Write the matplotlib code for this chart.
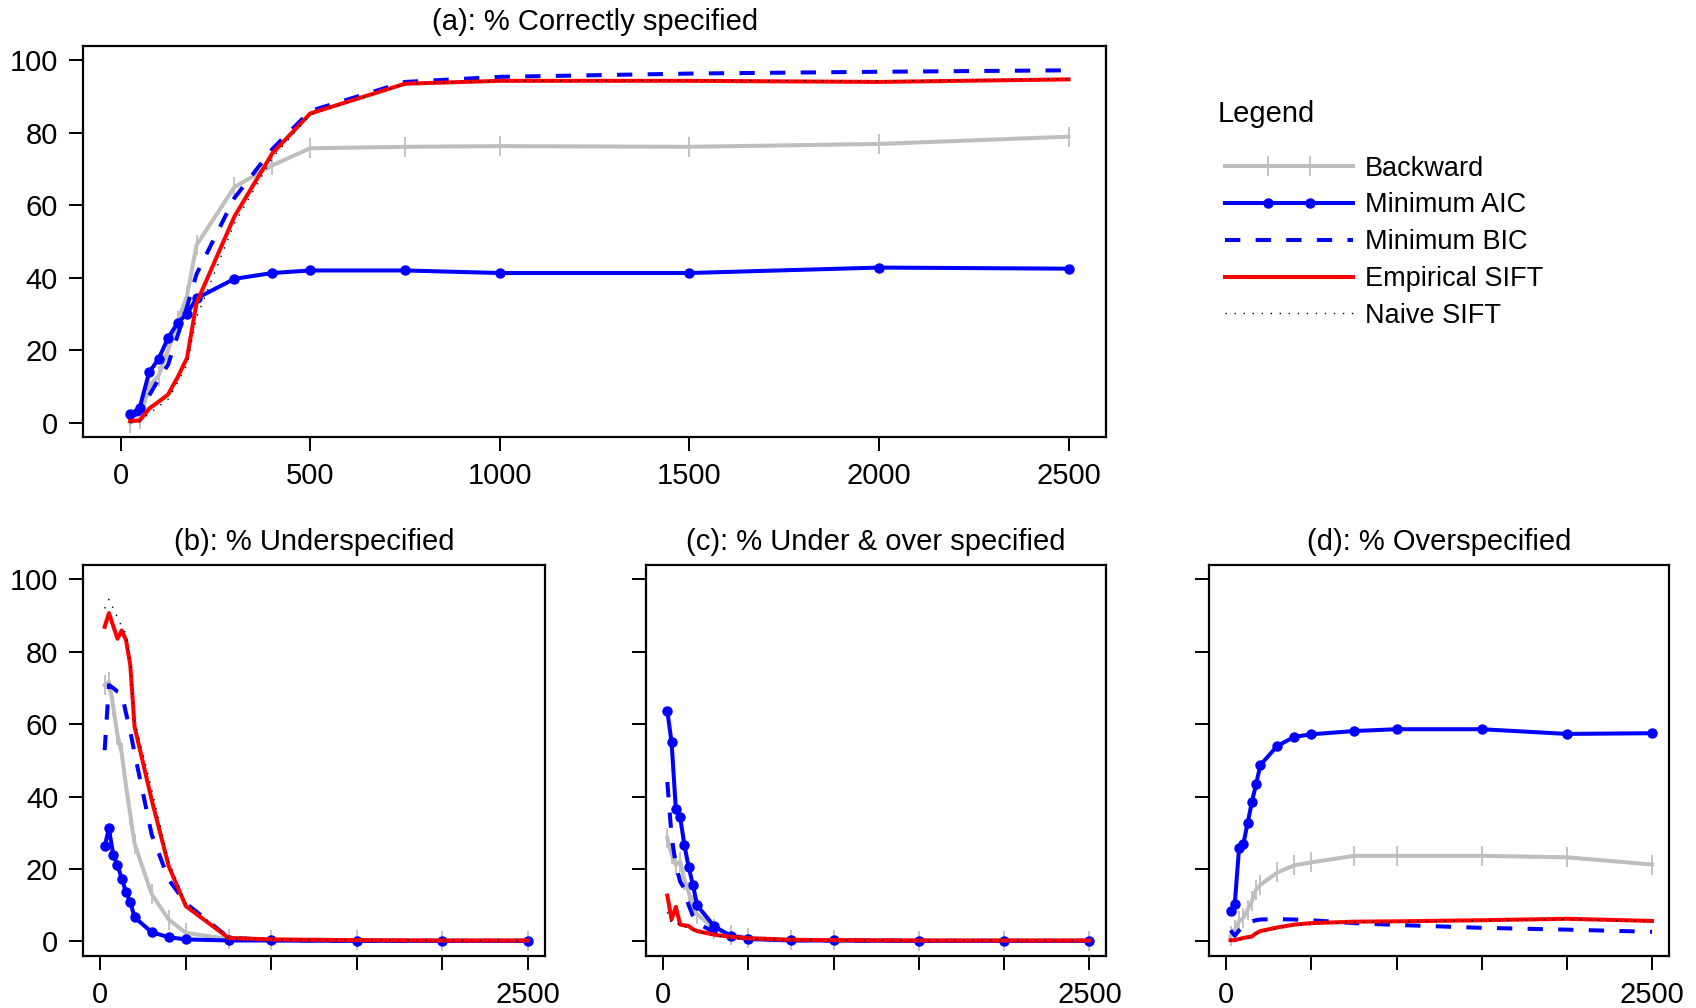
import matplotlib
matplotlib.use("Agg")
import numpy as np
import matplotlib.pyplot as plt
from matplotlib.lines import Line2D
from matplotlib.legend_handler import HandlerLine2D

plt.rcParams["font.family"] = ["Liberation Sans", "DejaVu Sans"]

# sample sizes
n = [25, 50, 75, 100, 125, 150, 175, 200, 300, 400, 500, 750, 1000, 1500, 2000, 2500]

# (a) % correctly specified
backward_correct = [0, 1, 10, 13, 20, 28, 35, 49, 65, 71, 75.7, 76.1, 76.3, 76.1, 76.9, 78.9]
aic_correct = [2.3, 4.1, 13.9, 17.6, 23.4, 27.5, 30.1, 34.3, 39.7, 41.3, 42.0, 42.0, 41.3, 41.3, 42.8, 42.5]
bic_correct = [1.8, 2.5, 7.5, 12, 16, 24, 32, 41, 62, 75.5, 86, 94, 95.4, 96.3, 96.8, 97.2]
emp_correct = [0.5, 0.6, 3.9, 5.8, 7.8, 12.5, 17.9, 33, 56.9, 74.3, 85.3, 93.5, 94.3, 94.3, 94.0, 94.7]
naive_correct = [0, 0.3, 2.5, 4.5, 6.5, 11, 16, 29, 55, 73, 85, 93.5, 94.3, 94.5, 94.2, 94.8]

# (b) % underspecified
backward_under = [70.8, 71.7, 65, 57, 52, 43, 35, 27, 13, 6, 2.3, 0.6, 0.3, 0.2, 0.1, 0.1]
aic_under = [26.2, 31.2, 23.9, 21.1, 17.3, 13.6, 10.8, 6.6, 2.5, 1.1, 0.5, 0.2, 0.2, 0.1, 0.1, 0.1]
bic_under = [52.8, 70.8, 70, 69, 68.5, 63, 58, 52, 29.5, 17, 10.5, 1.0, 0.3, 0.1, 0.1, 0.1]
emp_under = [86.9, 90.7, 87.2, 83.6, 85.9, 83.2, 76.3, 59.3, 39.1, 20.7, 9.7, 0.9, 0.5, 0.3, 0.2, 0.2]
naive_under = [92, 94.5, 92, 89.5, 87, 85, 77, 61, 42, 22, 10.5, 1.0, 0.5, 0.3, 0.2, 0.2]

# (c) % under & over specified
backward_uo = [28.5, 24, 21, 22, 17, 13.5, 10, 7.5, 3.5, 1.8, 1.0, 0.4, 0.2, 0.1, 0.1, 0.1]
aic_uo = [63.6, 55, 36.5, 34.4, 26.6, 20.5, 15.6, 9.9, 4.1, 1.4, 0.6, 0.2, 0.2, 0.1, 0.1, 0.1]
bic_uo = [44, 29, 21, 16.5, 14.5, 10, 7, 5, 2.5, 1.3, 0.8, 0.3, 0.2, 0.1, 0.1, 0.1]
emp_uo = [12.6, 6.0, 9.5, 4.6, 4.4, 4.2, 3.3, 2.8, 1.8, 1.2, 0.8, 0.4, 0.3, 0.2, 0.2, 0.2]
naive_uo = [8, 5, 4.5, 5, 4, 3.7, 3.3, 2.8, 1.5, 1.0, 0.7, 0.3, 0.2, 0.2, 0.2, 0.2]

# (d) % overspecified
backward_over = [1.4, 3.2, 5.5, 6.4, 8.7, 11, 14.2, 15.6, 19, 21, 21.8, 23.6, 23.6, 23.6, 23.2, 21.2]
aic_over = [8.3, 10.4, 25.7, 26.8, 32.6, 38.4, 43.4, 48.7, 54, 56.5, 57.2, 58.1, 58.6, 58.6, 57.3, 57.5]
bic_over = [3, 1.5, 3, 4.5, 5, 5.5, 5.8, 6, 6.1, 6, 5.8, 5, 4.5, 3.7, 3.2, 2.6]
emp_over = [0.3, 0.3, 0.6, 0.9, 1.1, 1.3, 2.2, 2.8, 3.8, 4.6, 5.0, 5.4, 5.5, 5.8, 6.2, 5.6]
naive_over = [0.1, 0.2, 0.4, 0.7, 0.9, 1.1, 2.0, 2.6, 3.6, 4.4, 4.8, 5.3, 5.4, 5.7, 6.0, 5.5]

labels = ["Backward", "Minimum AIC", "Minimum BIC", "Empirical SIFT", "Naive SIFT"]
styles = [
    dict(color="#BEBEBE", lw=2.9, marker="|", ms=14, mew=1.3),
    dict(color="blue", lw=2.9, marker="o", ms=6.5),
    dict(color="blue", lw=2.9, dashes=(3.8, 3.8)),
    dict(color="red", lw=2.9),
    dict(color="black", lw=1.0, dashes=(1, 5.5)),
]

xticks = [0, 500, 1000, 1500, 2000, 2500]


class TwoMarkHandler(HandlerLine2D):
    # full-width line with two markers at one and two thirds
    def create_artists(self, legend, orig_handle, xdescent, ydescent,
                       width, height, fontsize, trans):
        x = np.linspace(-xdescent, -xdescent + width, 4)
        y = np.full_like(x, (height - ydescent) / 2)
        line = Line2D(x, y)
        self.update_prop(line, orig_handle, legend)
        line.set_markevery([1, 2])
        line.set_transform(trans)
        return [line]


def panel(fig, rect, ys, title, xlab, ylab):
    ax = fig.add_axes(rect)
    lines = []
    for y, st in zip(ys, styles):
        (ln,) = ax.plot(n, y, **st)
        lines.append(ln)
    ax.set_xlim(-100, 2600)
    ax.set_ylim(-4, 104)
    ax.set_xticks(xticks)
    ax.set_xticklabels(xlab)
    ax.set_yticks([0, 20, 40, 60, 80, 100])
    ax.set_yticklabels(["0", "20", "40", "60", "80", "100"] if ylab else [])
    ax.tick_params(direction="out", length=10, width=1.4, labelsize=21, pad=8)
    for s in ax.spines.values():
        s.set_linewidth(1.6)
    ax.set_title(title, fontsize=21, pad=11)
    return lines


fig = plt.figure(figsize=(16.96, 10.08), dpi=100)

lines = panel(fig, [0.0488, 0.5662, 0.6036, 0.3885],
              [backward_correct, aic_correct, bic_correct, emp_correct, naive_correct],
              "(a): % Correctly specified", [str(t) for t in xticks], True)
short = ["0", "", "", "", "", "2500"]
panel(fig, [0.0491, 0.0519, 0.2722, 0.3876],
      [backward_under, aic_under, bic_under, emp_under, naive_under],
      "(b): % Underspecified", short, True)
panel(fig, [0.3809, 0.0519, 0.2715, 0.3876],
      [backward_uo, aic_uo, bic_uo, emp_uo, naive_uo],
      "(c): % Under & over specified", short, False)
panel(fig, [0.7130, 0.0519, 0.2711, 0.3876],
      [backward_over, aic_over, bic_over, emp_over, naive_over],
      "(d): % Overspecified", short, False)

# legend to the right of panel (a)
fig.text(0.718, 1 - 114.5 / 1008, "Legend", fontsize=21, ha="left", va="center")
hmap = {lines[0]: TwoMarkHandler(), lines[1]: TwoMarkHandler()}
fig.legend(lines, labels, loc="upper left", bbox_to_anchor=(0.7225, 1 - 155.5 / 1008),
           frameon=False, fontsize=19.5, handlelength=4.7, handletextpad=0.45,
           labelspacing=0.4, borderpad=0, borderaxespad=0, handler_map=hmap)

fig.savefig("out.png", dpi=100)
